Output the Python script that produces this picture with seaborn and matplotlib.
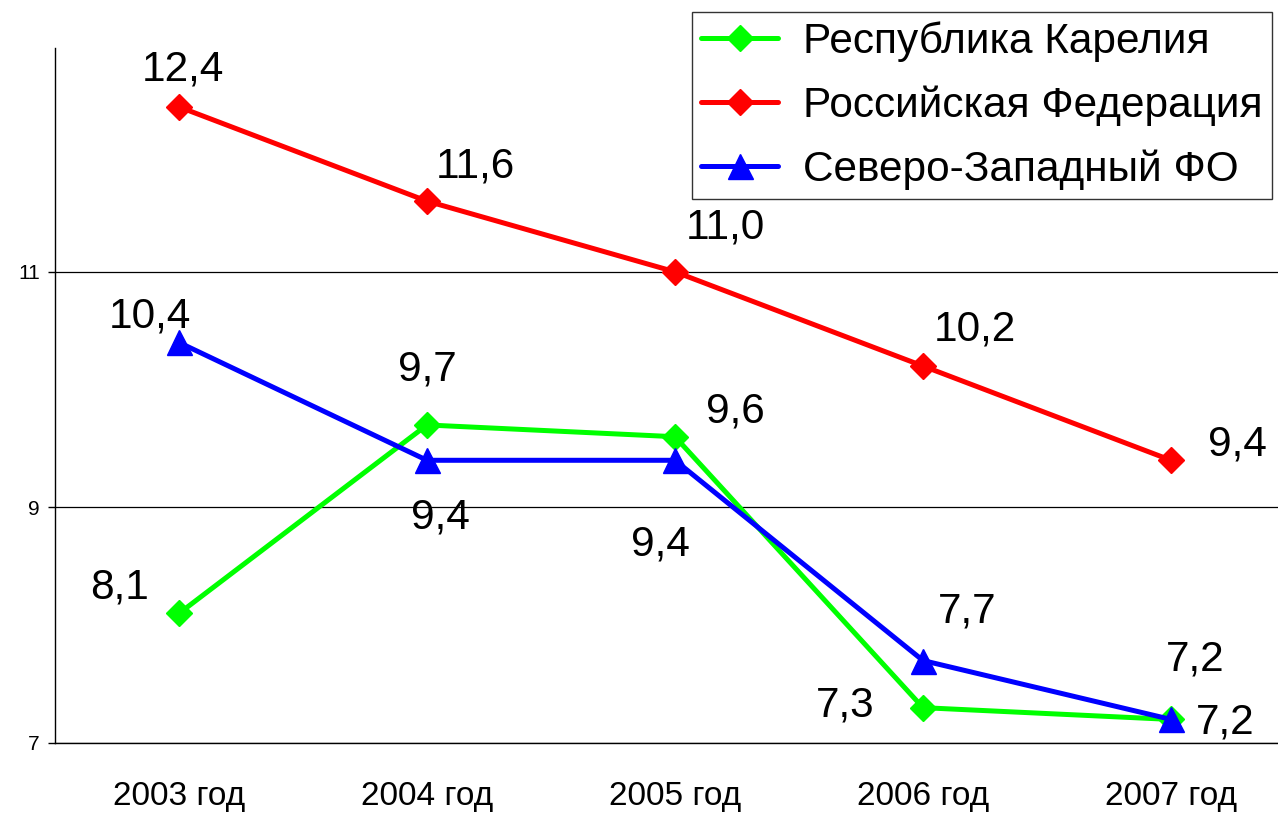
import pandas as pd
import seaborn as sns
import matplotlib.pyplot as plt
from matplotlib.ticker import FixedLocator

years = ["2003 год", "2004 год", "2005 год", "2006 год", "2007 год"]
names = ["Республика Карелия", "Российская Федерация", "Северо-Западный ФО"]
karelia = [8.1, 9.7, 9.6, 7.3, 7.2]
russia = [12.4, 11.6, 11.0, 10.2, 9.4]
szfo = [10.4, 9.4, 9.4, 7.7, 7.2]

colors = ["#00ff00", "#ff0000", "#0000ff"]
markers = ["D", "D", "^"]
# value label offsets in pixels (dx, dy up)
offsets = [
    [(-59, 26), (0, 55), (60, 25), (-78, 2), (54, -3)],
    [(4, 37), (48, 35), (50, 44), (52, 37), (66, 16)],
    [(-29, 26), (13, -57), (-15, -84), (44, 49), (24, 60)],
]

sns.set_style("white")
plt.rcParams["font.family"] = ["Liberation Sans", "DejaVu Sans"]
plt.rcParams["text.color"] = "black"
plt.rcParams["xtick.color"] = "black"
plt.rcParams["ytick.color"] = "black"

df = pd.DataFrame({
    "year": years * 3,
    "value": karelia + russia + szfo,
    "series": [n for n in names for _ in years],
})

fig = plt.figure(figsize=(12.78, 8.17), dpi=100)
ax = fig.add_axes([55 / 1278, 1 - 743 / 817, 1240 / 1278, (743 - 48) / 817])

sns.lineplot(data=df, x="year", y="value", hue="series", style="series",
             hue_order=names, style_order=names,
             palette=dict(zip(names, colors)), markers=dict(zip(names, markers)),
             dashes=False, sort=False, lw=3.6, markersize=13,
             markeredgewidth=1, legend=False, ax=ax)
for line, c in zip(ax.lines, colors):
    line.set_markeredgecolor(c)
ax.lines[2].set_markersize(18)

for vals, offs in zip([karelia, russia, szfo], offsets):
    for i, (v, o) in enumerate(zip(vals, offs)):
        ax.annotate(f"{v:.1f}".replace(".", ","), (i, v), xytext=o,
                    textcoords="offset pixels", ha="center", va="center",
                    fontsize=30.5, color="black")

ax.set_xlim(-0.5, 4.5)
ax.set_ylim(7, 12.9)
ax.set_yticks([7, 9, 11])
ax.set_xlabel("")
ax.set_ylabel("")
ax.yaxis.grid(True, color="black", lw=0.9)
ax.xaxis.grid(False)
for s in ["top", "right"]:
    ax.spines[s].set_visible(False)
for s in ["left", "bottom"]:
    ax.spines[s].set_color("black")
    ax.spines[s].set_linewidth(1)

ax.xaxis.set_minor_locator(FixedLocator([-0.5, 0.5, 1.5, 2.5, 3.5]))
ax.tick_params(axis="x", which="major", length=0, pad=27, labelsize=24, labelcolor="black")
ax.tick_params(axis="x", which="minor", length=7, width=1, color="black", direction="out")
ax.tick_params(axis="y", length=5, width=1, color="black", pad=6, labelsize=15,
               labelcolor="black", left=True)

leg = ax.legend(ax.lines[:3], names, loc="upper right",
                bbox_to_anchor=(1272 / 1278, 1 - 12 / 817), bbox_transform=fig.transFigure,
                borderaxespad=0, fontsize=30.5, frameon=True, fancybox=False,
                handlelength=1.8, handletextpad=0.6, labelspacing=0.55, borderpad=0.22)
leg.get_frame().set_edgecolor("black")
leg.get_frame().set_linewidth(1)
for t in leg.get_texts():
    t.set_color("black")

fig.savefig("out.png", dpi=100)
